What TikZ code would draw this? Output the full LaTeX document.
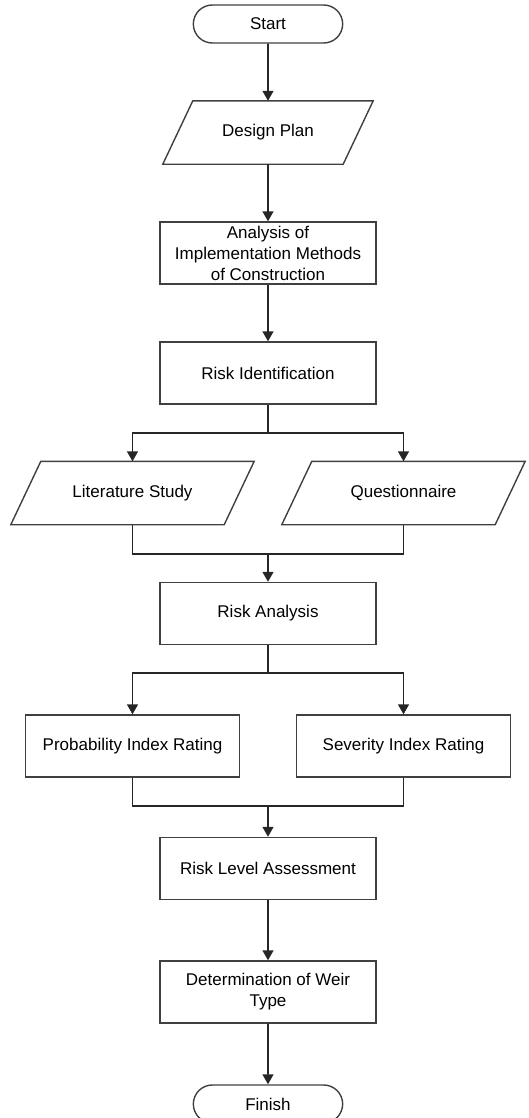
\documentclass[tikz,border=0pt]{standalone}
\usepackage{fontspec}
\setmainfont{Liberation Sans}
\usetikzlibrary{
  arrows.meta,
  shapes.misc,
  chains,
  matrix,
  scopes
}

\begin{document}
\begin{tikzpicture}[
      process/.style={
         rectangle,
         minimum width=216pt,
         minimum height=62pt,
         draw=black!75,
         align=center,
         font=\fontsize{17}{21}\selectfont
      },
      data/.style={
         rectangle,
         minimum width=242pt,
         minimum height=62pt,
         font=\fontsize{17}{21}\selectfont,
         append after command={\pgfextra{
            \draw[draw=black!75] ([xshift=30pt]\tikzlastnode.north west) -- (\tikzlastnode.north east)
               -- ([xshift=-30pt]\tikzlastnode.south east) -- (\tikzlastnode.south west) -- cycle;}}
      },
      terminal/.style={
         rounded rectangle,
         minimum width=156pt,
         minimum height=38pt,
         draw=black!75,
         font=\fontsize{17}{21}\selectfont
      },
      point/.style={coordinate},>={Triangle[length=10pt,width=11pt]},
      line width=1.4pt,draw=black!85,
      tip/.style={->},every join/.style={line width=1.6pt}
    ]
    \matrix[column sep={135.5pt,between origins}, row sep=0pt] {
 & \node (n12) [terminal] {Start}; & \\[108.5pt,between origins]
 & \node (n22) [data, minimum width=209pt] {Design Plan}; & \\[120.5pt,between origins]
 & \node (n32) [process] {Analysis of\\Implementation Methods\\of Construction}; & \\[120pt,between origins]
 & \node (n42) [process] {Risk Identification}; & \\[60pt,between origins]
\node (n51) [point] {}; & \node (n52) [point] {}; & \node (n53) [point] {}; \\[60pt,between origins]
\node (n61) [data] {Literature Study}; &  & \node (n63) [data] {Questionnaire}; \\[61pt,between origins]
\node (n71) [point] {}; & \node (n72) [point] {}; & \node (n73) [point] {}; \\[59.5pt,between origins]
 & \node (n82) [process] {Risk Analysis}; & \\[59.5pt,between origins]
\node (n91) [point] {}; & \node (n92) [point] {}; & \node (n93) [point] {}; \\[73pt,between origins]
\node (n101) [process, minimum width=214pt] {Probability Index Rating}; &  & \node (n103) [process, minimum width=214pt] {Severity Index Rating}; \\[60pt,between origins]
\node (n111) [point] {}; & \node (n112) [point] {}; & \node (n113) [point] {}; \\[62.5pt,between origins]
 & \node (n122) [process] {Risk Level Assessment}; & \\[123.5pt,between origins]
 & \node (n132) [process] {Determination of Weir\\Type}; & \\[112pt,between origins]
 & \node (n142) [terminal] {Finish}; & \\
    };
  { [start chain]
       \chainin (n12);
       \chainin (n22)    [join=by tip];
       \chainin (n32)    [join=by tip];
       \chainin (n42)    [join=by tip];
       \chainin (n52)    [join];
  }
  { [start chain]
       \chainin (n51);
       \chainin (n53)    [join];
  }
  { [start chain]
       \chainin (n51);
       \chainin (n61)    [join=by tip];
  }
  { [start chain]
       \chainin (n53);
       \chainin (n63)    [join=by tip];
  }
  { [start chain]
       \chainin (n61);
       \chainin (n71)    [join];
       \chainin (n73)    [join];
       \chainin (n63)    [join];
  }
  { [start chain]
       \chainin (n72);
       \chainin (n82)    [join=by tip];
       \chainin (n92)    [join];
  }
  { [start chain]
       \chainin (n91);
       \chainin (n93)    [join];
  }
  { [start chain]
       \chainin (n91);
       \chainin (n101)   [join=by tip];
  }
  { [start chain]
       \chainin (n93);
       \chainin (n103)   [join=by tip];
  }
  { [start chain]
       \chainin (n101);
       \chainin (n111)   [join];
       \chainin (n113)   [join];
       \chainin (n103)   [join];
  }
  { [start chain]
       \chainin (n112);
       \chainin (n122)   [join=by tip];
       \chainin (n132)   [join=by tip];
       \chainin (n142)   [join=by tip];
  }
  \pgfresetboundingbox
  \useasboundingbox ([xshift=-268pt,yshift=24pt]n12.center) rectangle ++(528pt,-1118pt);
\end{tikzpicture}
\end{document}
